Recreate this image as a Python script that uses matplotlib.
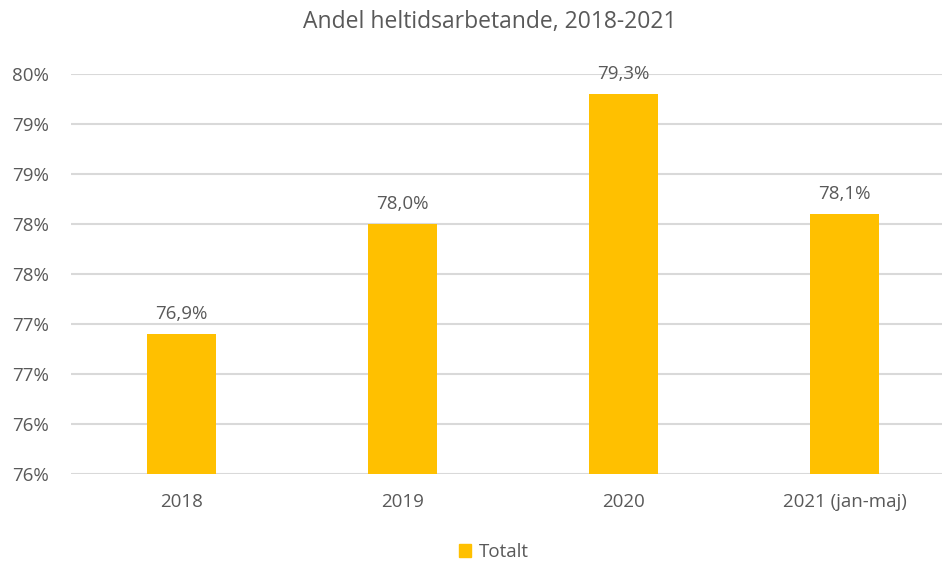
import matplotlib.pyplot as plt
from matplotlib.patches import Patch

plt.rcParams['font.family'] = ['Open Sans', 'DejaVu Sans']

# data
years = ['2018', '2019', '2020', '2021 (jan-maj)']
andel = [76.9, 78.0, 79.3, 78.1]
bar_labels = ['76,9%', '78,0%', '79,3%', '78,1%']
ytick_vals = [75.5, 76.0, 76.5, 77.0, 77.5, 78.0, 78.5, 79.0, 79.5]
ytick_labels = ['76%', '76%', '77%', '77%', '78%', '78%', '79%', '79%', '80%']

GOLD = '#FFC000'
TXT = '#595959'
GRID = '#D9D9D9'

fig = plt.figure(figsize=(9.42, 5.61), dpi=100)
ax = fig.add_axes([71 / 942, 1 - 474 / 561, 884 / 942, 400 / 561])

x = range(len(years))
ax.bar(x, andel, width=0.31, color=GOLD, zorder=3)
ax.set_ylim(ytick_vals[0], ytick_vals[-1])
ax.set_xlim(-0.5, len(years) - 0.5)

for xi, v, lab in zip(x, andel, bar_labels):
    ax.annotate(lab, (xi, v), xytext=(0, 8), textcoords='offset points',
                ha='center', va='bottom', fontsize=13.5, color=TXT)

ax.set_yticks(ytick_vals)
ax.set_yticklabels(ytick_labels)
ax.set_xticks(list(x))
ax.set_xticklabels(years)
ax.tick_params(axis='both', length=0, labelsize=13.5, colors=TXT)
ax.tick_params(axis='y', pad=16)
ax.tick_params(axis='x', pad=14)
ax.grid(axis='y', color=GRID, lw=1.5, zorder=0)
for s in ax.spines.values():
    s.set_visible(False)

fig.text(490 / 942, 1 - 22 / 561, 'Andel heltidsarbetande, 2018-2021',
         ha='center', va='center', fontsize=16.5, color=TXT)

fig.legend(handles=[Patch(color=GOLD, label='Totalt')], loc='center',
           bbox_to_anchor=(494 / 942, 1 - 552 / 561), frameon=False,
           fontsize=13.5, labelcolor=TXT, handlelength=0.65, handleheight=0.65,
           handletextpad=0.4)

fig.savefig('out.png', dpi=100)
